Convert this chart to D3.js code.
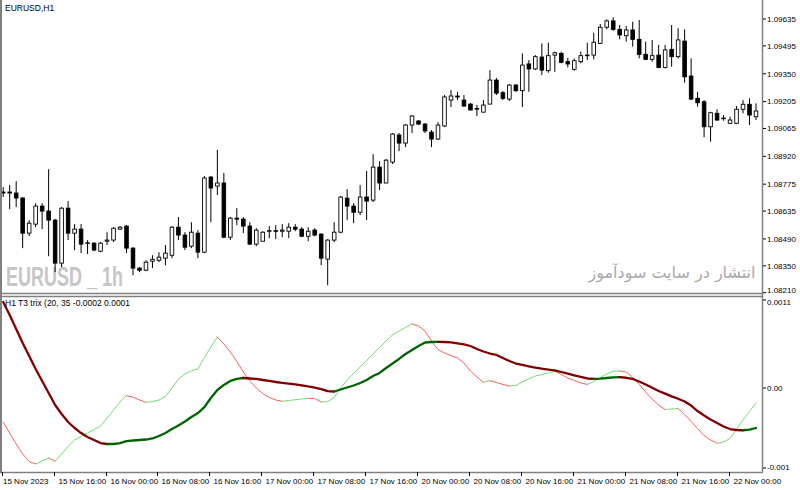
<!DOCTYPE html>
<html><head><meta charset="utf-8">
<script src="https://cdn.jsdelivr.net/npm/d3@7"></script>
<style>body{margin:0;background:#fff}svg{display:block}</style>
</head><body>
<script>
// ---- DATA (EURUSD H1, bars from 15 Nov 2023 08:00) ----
const opens=[1.08729,1.08734,1.08729,1.08703,1.08520,1.08567,1.08661,1.08635,1.08588,1.08364,
1.08650,1.08520,1.08541,1.08468,1.08468,1.08426,1.08478,1.08484,1.08541,1.08557,
1.08442,1.08338,1.08327,1.08374,1.08379,1.08390,1.08405,1.08551,1.08510,1.08452,
1.08520,1.08421,1.08812,1.08765,1.08781,1.08499,1.08598,1.08593,1.08557,1.08463,
1.08478,1.08530,1.08533,1.08530,1.08530,1.08551,1.08541,1.08504,1.08536,1.08515,
1.08385,1.08484,1.08525,1.08702,1.08661,1.08629,1.08708,1.08692,1.08864,1.08781,
1.08890,1.09031,1.08989,1.09083,1.09104,1.09088,1.09046,1.09010,1.09078,1.09213,
1.09234,1.09213,1.09192,1.09169,1.09150,1.09192,1.09317,1.09251,1.09218,1.09291,
1.09262,1.09401,1.09375,1.09437,1.09366,1.09447,1.09456,1.09413,1.09373,1.09413,
1.09445,1.09447,1.09508,1.09592,1.09625,1.09581,1.09548,1.09578,1.09529,1.09451,
1.09425,1.09447,1.09383,1.09477,1.09439,1.09520,1.09338,1.09222,1.09204,1.09074,
1.09144,1.09119,1.09092,1.09092,1.09165,1.09191,1.09126];
const highs=[1.08760,1.08770,1.08791,1.08708,1.08588,1.08676,1.08676,1.08853,1.08594,1.08656,
1.08687,1.08567,1.08567,1.08484,1.08473,1.08473,1.08525,1.08551,1.08557,1.08562,
1.08447,1.08343,1.08379,1.08405,1.08421,1.08458,1.08557,1.08604,1.08525,1.08577,
1.08536,1.08817,1.08817,1.08953,1.08833,1.08604,1.08650,1.08604,1.08577,1.08546,
1.08530,1.08557,1.08562,1.08567,1.08572,1.08567,1.08551,1.08551,1.08546,1.08520,
1.08489,1.08577,1.08713,1.08749,1.08676,1.08770,1.08843,1.08931,1.08895,1.08906,
1.09041,1.09041,1.09088,1.09135,1.09109,1.09093,1.09057,1.09098,1.09239,1.09265,
1.09255,1.09239,1.09197,1.09187,1.09213,1.09369,1.09328,1.09260,1.09296,1.09296,
1.09456,1.09421,1.09447,1.09508,1.09512,1.09465,1.09465,1.09433,1.09430,1.09465,
1.09512,1.09564,1.09609,1.09633,1.09644,1.09604,1.09598,1.09621,1.09630,1.09517,
1.09526,1.09500,1.09500,1.09604,1.09587,1.09581,1.09430,1.09256,1.09213,1.09152,
1.09165,1.09135,1.09126,1.09182,1.09213,1.09222,1.09196];
const lows=[1.08708,1.08645,1.08656,1.08442,1.08505,1.08551,1.08541,1.08400,1.08317,1.08343,
1.08484,1.08432,1.08416,1.08411,1.08426,1.08421,1.08458,1.08473,1.08536,1.08416,
1.08301,1.08317,1.08322,1.08338,1.08369,1.08353,1.08390,1.08484,1.08432,1.08442,
1.08390,1.08416,1.08577,1.08718,1.08494,1.08484,1.08562,1.08520,1.08458,1.08452,
1.08478,1.08494,1.08489,1.08499,1.08494,1.08530,1.08499,1.08478,1.08504,1.08353,
1.08249,1.08473,1.08520,1.08588,1.08572,1.08614,1.08588,1.08682,1.08744,1.08781,
1.08880,1.08947,1.08968,1.09041,1.09083,1.09041,1.08968,1.09005,1.09072,1.09177,
1.09213,1.09177,1.09161,1.09130,1.09150,1.09192,1.09239,1.09213,1.09208,1.09255,
1.09177,1.09256,1.09369,1.09343,1.09355,1.09360,1.09404,1.09383,1.09366,1.09404,
1.09421,1.09425,1.09505,1.09581,1.09574,1.09529,1.09517,1.09491,1.09430,1.09421,
1.09413,1.09378,1.09378,1.09387,1.09430,1.09303,1.09213,1.09178,1.09019,1.08996,
1.09105,1.09105,1.09088,1.09088,1.09144,1.09083,1.09109];
const closes=[1.08734,1.08729,1.08703,1.08520,1.08572,1.08661,1.08635,1.08588,1.08364,1.08650,
1.08520,1.08541,1.08463,1.08470,1.08432,1.08468,1.08484,1.08546,1.08551,1.08442,
1.08338,1.08327,1.08369,1.08384,1.08395,1.08416,1.08551,1.08510,1.08447,1.08525,
1.08421,1.08807,1.08755,1.08781,1.08499,1.08598,1.08593,1.08557,1.08463,1.08536,
1.08525,1.08533,1.08530,1.08536,1.08551,1.08541,1.08504,1.08530,1.08510,1.08390,
1.08484,1.08525,1.08708,1.08661,1.08629,1.08708,1.08687,1.08864,1.08781,1.08900,
1.09036,1.08989,1.09083,1.09130,1.09088,1.09052,1.09010,1.09083,1.09229,1.09234,
1.09229,1.09182,1.09161,1.09166,1.09187,1.09317,1.09249,1.09222,1.09291,1.09262,
1.09395,1.09375,1.09439,1.09369,1.09444,1.09459,1.09409,1.09401,1.09418,1.09444,
1.09447,1.09514,1.09592,1.09625,1.09581,1.09552,1.09578,1.09529,1.09451,1.09425,
1.09444,1.09383,1.09474,1.09439,1.09526,1.09334,1.09218,1.09199,1.09074,1.09147,
1.09109,1.09117,1.09109,1.09165,1.09191,1.09135,1.09156];
// T3 trix main (thick) and signal (thin)
const trixMain=[0.001075,0.000913,0.000738,0.000563,0.0004,0.000238,0.000088,-0.000063,-0.000213,-0.000325,
-0.000425,-0.0005,-0.000563,-0.000613,-0.00065,-0.000688,-0.0007,-0.0007,-0.000688,-0.000663,
-0.000656,-0.00065,-0.000644,-0.000631,-0.0006,-0.000563,-0.000513,-0.000469,-0.000419,-0.000363,
-0.000313,-0.000238,-0.000125,-0.000025,0.000038,0.000088,0.000113,0.000125,0.000119,0.000113,
0.0001,0.000088,0.000075,0.000063,0.000054,0.000046,0.000034,0.000019,0.000006,-0.000013,
-0.000038,-0.000044,-0.000019,0.000006,0.000031,0.000063,0.0001,0.00015,0.000188,0.00025,
0.000306,0.000363,0.000425,0.000475,0.000525,0.000569,0.000575,0.000576,0.000575,0.000571,
0.000559,0.000546,0.000525,0.000488,0.000456,0.000431,0.000413,0.000375,0.000338,0.000306,
0.000288,0.000269,0.000254,0.000241,0.000231,0.000219,0.0002,0.000179,0.000159,0.000138,
0.000119,0.000113,0.000116,0.000125,0.000134,0.000135,0.000128,0.000113,0.000081,0.000044,
0.000004,-0.000038,-0.000071,-0.000104,-0.000134,-0.000169,-0.000219,-0.000288,-0.000344,-0.000394,
-0.000438,-0.000481,-0.000513,-0.000525,-0.000528,-0.000519,-0.0005];
const trixSignal=[-0.000425,-0.000563,-0.0007,-0.000825,-0.000919,-0.00095,-0.000913,-0.000875,-0.000913,-0.000825,
-0.000731,-0.00065,-0.000606,-0.000563,-0.000519,-0.000475,-0.000375,-0.000275,-0.000175,-0.000096,
-0.000113,-0.00015,-0.000179,-0.000171,-0.00015,-0.000106,0,0.000113,0.000175,0.000216,
0.000238,0.000381,0.000513,0.000638,0.00055,0.00045,0.000331,0.0002,0.000088,0,
-0.000069,-0.000119,-0.00015,-0.000166,-0.000156,-0.000146,-0.000138,-0.000129,-0.000131,-0.000175,
-0.000169,-0.000119,0,0.0001,0.000181,0.000263,0.000344,0.000425,0.000506,0.000588,
0.000663,0.000713,0.000756,0.0008,0.000775,0.000713,0.000588,0.000481,0.000438,0.000406,
0.000375,0.000313,0.000213,0.000138,0.000071,0.000091,0.000069,0.000044,0.000025,0.000031,
0.000075,0.000113,0.00015,0.000169,0.000188,0.000209,0.000169,0.000125,0.000094,0.000063,
0.000044,0.000081,0.000131,0.000175,0.000209,0.000213,0.0002,0.000134,0.000044,-0.00005,
-0.000138,-0.000213,-0.000269,-0.000263,-0.000256,-0.000331,-0.000419,-0.000506,-0.000594,-0.00065,
-0.000691,-0.000675,-0.000631,-0.000513,-0.0004,-0.000294,-0.000188];
const timeTickBars=[0,8,16,24,32,40,48,56,64,72,80,88,96,104,112];
const timeTickLabels=["15 Nov 2023","15 Nov 16:00","16 Nov 00:00","16 Nov 08:00","16 Nov 16:00","17 Nov 00:00","17 Nov 08:00","17 Nov 16:00","20 Nov 00:00","20 Nov 08:00","20 Nov 16:00","21 Nov 00:00","21 Nov 08:00","21 Nov 16:00","22 Nov 00:00"];
const priceTicks=[1.09635,1.09495,1.09350,1.09205,1.09065,1.08920,1.08775,1.08635,1.08490,1.08350,1.08210];
const indTicks=[0.0011,0,-0.001];
const indTickLabels=["0.0011","0.00","-0.001"];

// ---- LAYOUT ----
const W=800,H=490,plotR=762,mainBot=293,indTop=296,indBot=472;
const font="'Liberation Sans', Arial, sans-serif";
const n=opens.length;
const x=d3.scaleLinear().domain([0,116]).range([3.2,756]);
const yP=d3.scaleLinear().domain([1.08210,1.09635]).range([292.7,19]);
const yI=d3.scaleLinear().domain([-0.001,0.0011]).range([468,300]);

const svg=d3.select("body").append("svg").attr("width",W).attr("height",H);
svg.append("rect").attr("width",W).attr("height",H).attr("fill","#fff");
const defs=svg.append("defs");
defs.append("clipPath").attr("id","cm").append("rect").attr("x",2).attr("y",0).attr("width",plotR-2).attr("height",mainBot);
defs.append("clipPath").attr("id","ci").append("rect").attr("x",2).attr("y",indTop+1).attr("width",plotR-2).attr("height",indBot-indTop-1);

// watermarks
svg.append("text").attr("x",6).attr("y",286).attr("font-family","'Liberation Sans Narrow','Liberation Sans',Arial,sans-serif")
  .attr("font-weight","bold").attr("font-size",27).attr("fill","#c6c6c6")
  .attr("textLength",117).attr("lengthAdjust","spacingAndGlyphs").text("EURUSD _ 1h");
svg.append("text").attr("x",672).attr("y",278).attr("text-anchor","middle").attr("font-family","'DejaVu Sans',sans-serif")
  .attr("font-size",16).attr("fill","#a9a9a9").attr("direction","rtl").text("انتشار در سایت سودآموز");

// candles
const gm=svg.append("g").attr("clip-path","url(#cm)");
const idx=d3.range(n);
gm.selectAll("line.w").data(idx).join("line").attr("class","w")
  .attr("x1",i=>x(i)).attr("x2",i=>x(i)).attr("y1",i=>yP(highs[i])).attr("y2",i=>yP(lows[i]))
  .attr("stroke","#000").attr("stroke-width",1);
gm.selectAll("rect.b").data(idx).join("rect").attr("class","b")
  .attr("x",i=>x(i)-1.8).attr("width",3.6)
  .attr("y",i=>yP(Math.max(opens[i],closes[i])))
  .attr("height",i=>Math.max(Math.abs(yP(opens[i])-yP(closes[i])),0.6))
  .attr("fill",i=>closes[i]>=opens[i]?"#fff":"#000").attr("stroke","#000").attr("stroke-width",0.9);

// indicator lines
const gi=svg.append("g").attr("clip-path","url(#ci)");
function drawColored(vals,up,down,w){
  let runs=[],cur=null;
  for(let i=1;i<vals.length;i++){
    const c=vals[i]>=vals[i-1]?up:down;
    if(!cur||cur.c!==c){cur={c,pts:[i-1]};runs.push(cur);}
    cur.pts.push(i);
  }
  const line=d3.line().x(i=>x(i)).y(i=>yI(vals[i]));
  runs.forEach(r=>gi.append("path").attr("d",line(r.pts)).attr("fill","none").attr("stroke",r.c)
    .attr("stroke-width",w).attr("stroke-linejoin","round").attr("stroke-linecap","round"));
}
drawColored(trixSignal,"#72dc72","#ff5f5f",1);
drawColored(trixMain,"#006400","#800000",2.3);

// frames
const fr="#808080";
svg.append("line").attr("x1",1).attr("x2",1).attr("y1",0).attr("y2",indBot).attr("stroke",fr).attr("stroke-width",2);
svg.append("line").attr("x1",0).attr("x2",plotR).attr("y1",mainBot+0.5).attr("y2",mainBot+0.5).attr("stroke",fr).attr("stroke-width",1.5);
svg.append("line").attr("x1",0).attr("x2",plotR).attr("y1",indTop+0.5).attr("y2",indTop+0.5).attr("stroke",fr).attr("stroke-width",1.5);
svg.append("line").attr("x1",plotR+0.5).attr("x2",plotR+0.5).attr("y1",0).attr("y2",indBot).attr("stroke",fr).attr("stroke-width",1.5);
svg.append("line").attr("x1",0).attr("x2",plotR+1).attr("y1",indBot+0.5).attr("y2",indBot+0.5).attr("stroke",fr).attr("stroke-width",1.5);

// price axis (label positions nudged to stay clear of each other at the panel join)
priceTicks.forEach((p,k)=>{
  const y=yP(p);
  const ly=k===priceTicks.length-1?y-2.5:y;
  svg.append("line").attr("x1",plotR+1).attr("x2",plotR+4).attr("y1",y).attr("y2",y).attr("stroke","#000");
  svg.append("text").attr("x",plotR+5).attr("y",ly).attr("dy","0.35em").attr("font-family",font).attr("font-size",8).attr("fill","#000").text(p.toFixed(5));
});
indTicks.forEach((v,k)=>{
  const y=yI(v);
  const ly=k===0?y+2.5:(k===indTicks.length-1?y-1:y);
  svg.append("line").attr("x1",plotR+1).attr("x2",plotR+4).attr("y1",y).attr("y2",y).attr("stroke","#000");
  svg.append("text").attr("x",plotR+5).attr("y",ly).attr("dy","0.35em").attr("font-family",font).attr("font-size",8).attr("fill","#000").text(indTickLabels[k]);
});
// time axis
timeTickBars.forEach((b,k)=>{
  const tx=Math.round(x(b)-1.5)+0.5;
  svg.append("line").attr("x1",tx).attr("x2",tx).attr("y1",indBot).attr("y2",indBot+4).attr("stroke","#000");
  svg.append("text").attr("x",k===0?3:tx+4).attr("y",484).attr("font-family",font).attr("font-size",8).attr("fill","#000").text(timeTickLabels[k]);
});
// labels
svg.append("text").attr("x",5).attr("y",11).attr("font-family",font).attr("font-size",8.5).attr("fill","#000").text("EURUSD,H1");
svg.append("text").attr("x",5).attr("y",306).attr("font-family",font).attr("font-size",8.5).attr("fill","#000").text("H1 T3 trix (20, 35 -0.0002 0.0001");
</script></body></html>
